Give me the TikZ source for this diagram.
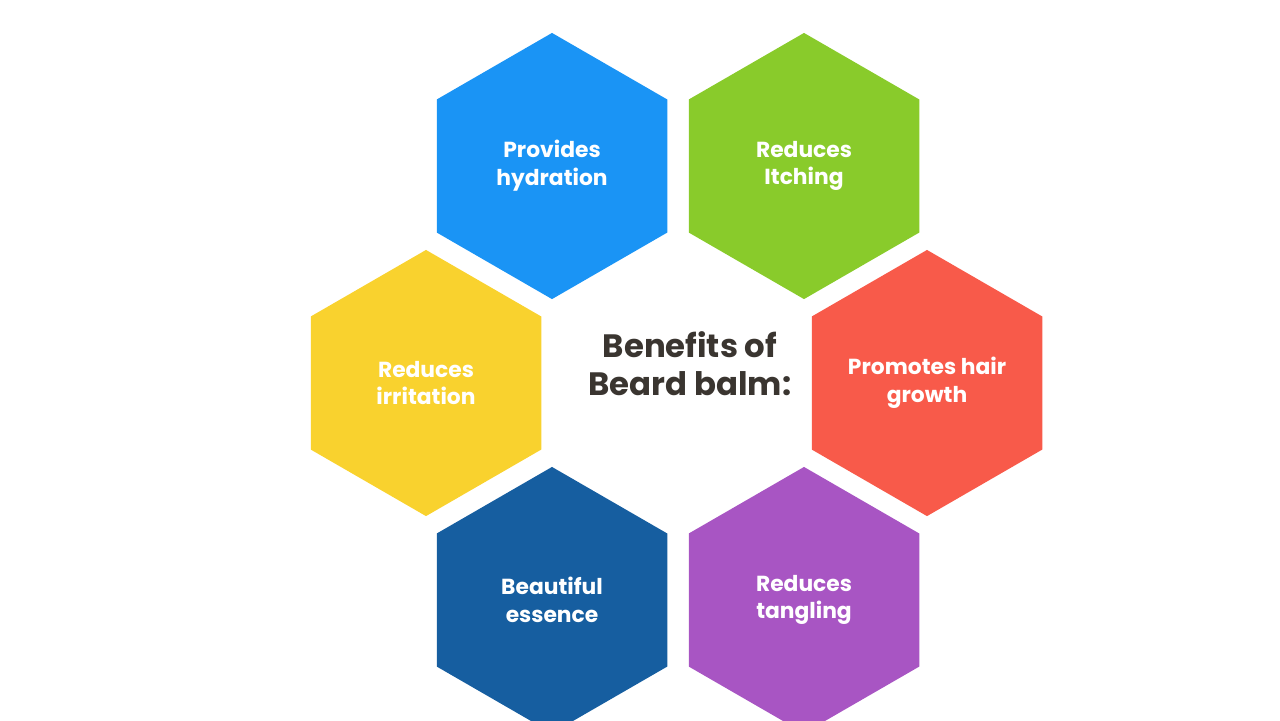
\documentclass[tikz,border=0pt]{standalone}
\usepackage{fontspec}
\setmainfont{Poppins}
\usetikzlibrary{shapes.geometric}
\definecolor{hexblue}{HTML}{1A94F5}
\definecolor{hexgreen}{HTML}{89CB2B}
\definecolor{hexyellow}{HTML}{F9D22E}
\definecolor{hexred}{HTML}{F85A4A}
\definecolor{hexnavy}{HTML}{165EA0}
\definecolor{hexpurple}{HTML}{A855C3}
\definecolor{titlegray}{HTML}{3A3530}
\begin{document}
\begin{tikzpicture}[x=0.01cm, y=-0.01cm,
	hex node/.style={regular polygon, regular polygon sides=6, shape border rotate=30,
		minimum size=2.66cm, inner sep=0pt, text=white, align=center,
		font=\fontsize{6.2}{7.9}\selectfont\bfseries}]
	\useasboundingbox (0,0) rectangle (1280,720);
	
	\node[hex node, fill=hexblue] (hydration) at (552,166) {Provides\\hydration};
	\node[hex node, fill=hexgreen] (itching) at (804,166) {Reduces\\Itching};
	\node[hex node, fill=hexyellow] (irritation) at (426,383) {Reduces\\irritation};
	\node[hex node, fill=hexred] (growth) at (927,383) {Promotes hair\\growth};
	\node[hex node, fill=hexnavy] (essence) at (552,600) {Beautiful\\essence};
	\node[hex node, fill=hexpurple] (tangling) at (804,600) {Reduces\\tangling};
	
	\node[text=titlegray, align=center, font=\fontsize{9.2}{10.8}\selectfont\bfseries]
	(title) at (690,364) {Benefits of\\Beard balm:};
\end{tikzpicture}
\end{document}
